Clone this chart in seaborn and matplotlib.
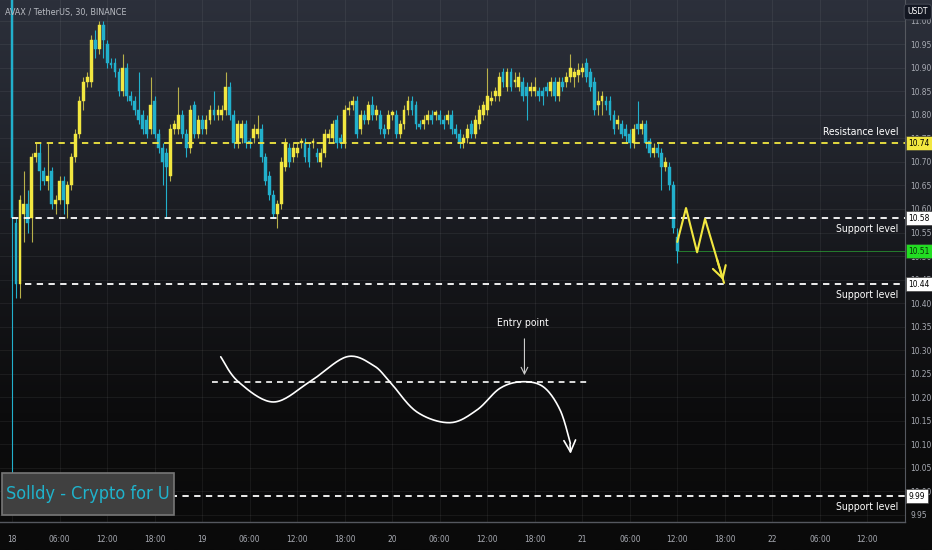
import numpy as np
import pandas as pd
import seaborn as sns
import matplotlib.pyplot as plt
from matplotlib import font_manager as fm
from matplotlib.colors import LinearSegmentedColormap
from matplotlib.patches import Rectangle
from matplotlib.transforms import blended_transform_factory

sns.set_theme(style='dark')

# look for a narrow face, TradingView text is condensed
cond = [f for f in fm.fontManager.ttflist
        if ('Narrow' in f.name or 'Condensed' in f.name or
            f.stretch in ('condensed', 'semi-condensed'))
        and f.style == 'normal' and f.weight in (400, 'normal', 'regular')]
if cond:
    plt.rcParams['font.family'] = [cond[0].name, 'DejaVu Sans']
    plt.rcParams['font.stretch'] = cond[0].stretch
    SHRINK = 1.0
else:
    plt.rcParams['font.family'] = ['DejaVu Sans']
    SHRINK = 0.85

# AVAX / USDT 30 min candles, 18th 00:00 onwards
opens = [11.20, 10.57, 10.44, 10.59, 10.61, 10.58, 10.71, 10.72, 10.68, 10.66,
         10.68, 10.61, 10.62, 10.66, 10.61, 10.65, 10.71, 10.76, 10.83, 10.87,
         10.87, 10.96, 10.94, 10.99, 10.95, 10.91, 10.91, 10.89, 10.85, 10.90,
         10.84, 10.83, 10.81, 10.80, 10.79, 10.77, 10.83, 10.76, 10.73, 10.72,
         10.67, 10.77, 10.77, 10.80, 10.76, 10.73, 10.82, 10.76, 10.79, 10.77,
         10.79, 10.81, 10.80, 10.80, 10.81, 10.86, 10.80, 10.74, 10.75, 10.78,
         10.745, 10.75, 10.76, 10.77, 10.71, 10.67, 10.63, 10.59, 10.61, 10.69,
         10.73, 10.71, 10.72, 10.74, 10.74, 10.73, 10.74, 10.72, 10.70, 10.72,
         10.75, 10.75, 10.79, 10.75, 10.74, 10.81, 10.82, 10.83, 10.77, 10.80,
         10.79, 10.82, 10.80, 10.80, 10.77, 10.77, 10.80, 10.80, 10.76, 10.78,
         10.81, 10.83, 10.82, 10.78, 10.78, 10.79, 10.80, 10.80, 10.80, 10.79,
         10.79, 10.80, 10.77, 10.76, 10.74, 10.75, 10.78, 10.76, 10.78, 10.80,
         10.81, 10.83, 10.84, 10.84, 10.89, 10.86, 10.89, 10.87, 10.86, 10.87,
         10.86, 10.85, 10.85, 10.85, 10.85, 10.86, 10.85, 10.87, 10.84, 10.87,
         10.87, 10.88, 10.88, 10.885, 10.89, 10.91, 10.89, 10.87, 10.82, 10.83,
         10.83, 10.83, 10.80, 10.78, 10.78, 10.77, 10.76, 10.74, 10.78, 10.77,
         10.78, 10.745, 10.72, 10.73, 10.72, 10.69, 10.69, 10.65, 10.54]
closes = [10.58, 10.44, 10.62, 10.61, 10.57, 10.71, 10.72, 10.68, 10.66, 10.67,
          10.61, 10.62, 10.66, 10.62, 10.65, 10.71, 10.76, 10.83, 10.87, 10.88,
          10.96, 10.94, 10.99, 10.96, 10.91, 10.905, 10.89, 10.85, 10.90, 10.84,
          10.83, 10.81, 10.79, 10.77, 10.76, 10.82, 10.76, 10.73, 10.70, 10.69,
          10.77, 10.78, 10.80, 10.76, 10.73, 10.81, 10.76, 10.79, 10.77, 10.79,
          10.81, 10.80, 10.81, 10.81, 10.86, 10.80, 10.74, 10.78, 10.78, 10.74,
          10.74, 10.77, 10.77, 10.71, 10.66, 10.63, 10.59, 10.61, 10.70, 10.74,
          10.70, 10.73, 10.73, 10.745, 10.71, 10.70, 10.745, 10.71, 10.72, 10.76,
          10.76, 10.78, 10.74, 10.74, 10.81, 10.815, 10.83, 10.76, 10.80, 10.79,
          10.82, 10.80, 10.81, 10.77, 10.76, 10.80, 10.805, 10.76, 10.78, 10.81,
          10.83, 10.81, 10.78, 10.775, 10.79, 10.80, 10.79, 10.805, 10.79, 10.78,
          10.80, 10.77, 10.76, 10.74, 10.75, 10.77, 10.76, 10.79, 10.81, 10.82,
          10.84, 10.835, 10.85, 10.88, 10.87, 10.89, 10.86, 10.875, 10.88, 10.84,
          10.84, 10.86, 10.86, 10.84, 10.84, 10.85, 10.87, 10.84, 10.87, 10.86,
          10.88, 10.90, 10.89, 10.895, 10.90, 10.88, 10.86, 10.81, 10.83, 10.84,
          10.82, 10.80, 10.77, 10.79, 10.76, 10.755, 10.74, 10.77, 10.77, 10.78,
          10.74, 10.72, 10.73, 10.72, 10.69, 10.70, 10.65, 10.56, 10.51]
highs = [11.20, 10.58, 10.63, 10.68, 10.64, 10.72, 10.74, 10.74, 10.69, 10.74,
         10.69, 10.63, 10.67, 10.67, 10.66, 10.72, 10.77, 10.84, 10.88, 10.89,
         10.97, 10.98, 11.00, 11.00, 10.96, 10.92, 10.92, 10.90, 10.93, 10.91,
         10.85, 10.84, 10.89, 10.81, 10.80, 10.88, 10.84, 10.77, 10.74, 10.73,
         10.78, 10.79, 10.86, 10.81, 10.77, 10.82, 10.83, 10.80, 10.80, 10.80,
         10.82, 10.85, 10.82, 10.82, 10.89, 10.87, 10.81, 10.79, 10.79, 10.79,
         10.75, 10.78, 10.80, 10.78, 10.72, 10.68, 10.64, 10.62, 10.71, 10.75,
         10.74, 10.74, 10.74, 10.75, 10.75, 10.74, 10.75, 10.73, 10.73, 10.77,
         10.77, 10.79, 10.80, 10.76, 10.82, 10.83, 10.84, 10.84, 10.81, 10.81,
         10.83, 10.84, 10.82, 10.81, 10.78, 10.81, 10.81, 10.81, 10.79, 10.82,
         10.84, 10.84, 10.83, 10.79, 10.80, 10.81, 10.81, 10.81, 10.81, 10.80,
         10.81, 10.81, 10.78, 10.77, 10.76, 10.78, 10.79, 10.80, 10.82, 10.83,
         10.90, 10.85, 10.86, 10.89, 10.90, 10.90, 10.90, 10.89, 10.89, 10.88,
         10.87, 10.87, 10.88, 10.86, 10.86, 10.87, 10.88, 10.88, 10.88, 10.88,
         10.89, 10.93, 10.90, 10.91, 10.91, 10.92, 10.90, 10.88, 10.85, 10.85,
         10.84, 10.84, 10.81, 10.80, 10.79, 10.78, 10.77, 10.78, 10.83, 10.79,
         10.79, 10.75, 10.74, 10.74, 10.73, 10.71, 10.70, 10.66, 10.56]
lows = [10.03, 10.41, 10.41, 10.53, 10.55, 10.53, 10.70, 10.64, 10.65, 10.64,
        10.60, 10.59, 10.61, 10.59, 10.58, 10.64, 10.70, 10.75, 10.81, 10.86,
        10.86, 10.92, 10.93, 10.92, 10.90, 10.90, 10.88, 10.84, 10.84, 10.83,
        10.82, 10.80, 10.78, 10.76, 10.75, 10.76, 10.75, 10.72, 10.65, 10.58,
        10.66, 10.76, 10.76, 10.75, 10.71, 10.72, 10.75, 10.75, 10.76, 10.76,
        10.78, 10.79, 10.79, 10.79, 10.80, 10.79, 10.73, 10.73, 10.74, 10.73,
        10.73, 10.74, 10.75, 10.70, 10.65, 10.62, 10.58, 10.56, 10.60, 10.68,
        10.69, 10.70, 10.71, 10.73, 10.70, 10.69, 10.73, 10.70, 10.69, 10.71,
        10.74, 10.74, 10.73, 10.73, 10.73, 10.80, 10.81, 10.75, 10.76, 10.78,
        10.78, 10.79, 10.79, 10.76, 10.75, 10.76, 10.79, 10.75, 10.75, 10.77,
        10.80, 10.80, 10.77, 10.77, 10.77, 10.78, 10.78, 10.79, 10.78, 10.77,
        10.78, 10.76, 10.75, 10.73, 10.73, 10.74, 10.75, 10.75, 10.77, 10.79,
        10.80, 10.82, 10.83, 10.83, 10.86, 10.85, 10.85, 10.86, 10.85, 10.83,
        10.79, 10.84, 10.84, 10.83, 10.82, 10.84, 10.84, 10.83, 10.83, 10.85,
        10.86, 10.87, 10.86, 10.87, 10.88, 10.87, 10.85, 10.80, 10.80, 10.80,
        10.81, 10.79, 10.76, 10.77, 10.75, 10.74, 10.73, 10.73, 10.76, 10.76,
        10.73, 10.71, 10.71, 10.71, 10.64, 10.68, 10.64, 10.55, 10.485]

# drawn levels
resistance = 10.74
supports = [10.58, 10.44, 9.99]
last_price = 10.51

# yellow zigzag projection (hours from 18 00:00, price)
zig_h = [84.0, 85.1, 86.5, 87.5, 89.9]
zig_p = [10.530, 10.602, 10.508, 10.579, 10.443]

# hand drawn white curve in the lower half
curve_h = [26.35, 28.57, 33.0, 37.6, 42.26, 45.6, 47.7, 51.1, 55.3, 58.7,
           61.6, 64.4, 67.1, 69.2, 70.5]
curve_p = [10.286, 10.233, 10.190, 10.233, 10.286, 10.268, 10.233, 10.169,
           10.146, 10.173, 10.219, 10.233, 10.222, 10.173, 10.102]
entry_level = 10.233

time_labels = ['18', '06:00', '12:00', '18:00', '19', '06:00', '12:00', '18:00',
               '20', '06:00', '12:00', '18:00', '21', '06:00', '12:00', '18:00',
               '22', '06:00', '12:00']

YEL = '#f2e740'
CYA = '#22b0cc'
GRID = '#ffffff'


def smooth(xs, ys, n=20):
    # catmull-rom through the hand-drawn points
    xs = np.r_[xs[0], xs, xs[-1]]
    ys = np.r_[ys[0], ys, ys[-1]]
    ox, oy = [], []
    t = np.linspace(0, 1, n, endpoint=False)
    for i in range(1, len(xs) - 2):
        for arr, out in ((xs, ox), (ys, oy)):
            p0, p1, p2, p3 = arr[i - 1], arr[i], arr[i + 1], arr[i + 2]
            out.extend(0.5 * ((2 * p1) + (-p0 + p2) * t +
                              (2 * p0 - 5 * p1 + 4 * p2 - p3) * t ** 2 +
                              (-p0 + 3 * p1 - 3 * p2 + p3) * t ** 3))
    ox.append(xs[-2])
    oy.append(ys[-2])
    return np.array(ox), np.array(oy)


df = pd.DataFrame({'open': opens, 'close': closes, 'high': highs, 'low': lows})
df['t'] = np.arange(len(df)) * 0.5
df['up'] = df['close'] >= df['open']

W, H = 932, 550
fig = plt.figure(figsize=(W / 100, H / 100), dpi=100)
fig.patch.set_facecolor('#0b0b0c')

# background gradient over the whole figure
bg = fig.add_axes([0, 0, 1, 1], zorder=0)
cmap = LinearSegmentedColormap.from_list(
    'bg', ['#2c303b', '#22252d', '#15161a', '#0c0c0d', '#0a0a0a'])
bg.imshow(np.linspace(0, 1, 256).reshape(-1, 1), aspect='auto', cmap=cmap,
          extent=[0, 1, 0, 1])
bg.axis('off')

ax = fig.add_axes([0, 28 / H, 905 / W, 1 - 28 / H], zorder=1)
ax.patch.set_alpha(0)
ax.set_xlim(-1.52, 112.75)
ax.set_ylim(9.935, 11.044)

# grid
for v in np.arange(0, 109, 6):
    ax.axvline(v, color=GRID, alpha=0.06, lw=0.8, zorder=1)
for v in np.arange(9.95, 11.0, 0.05):
    ax.axhline(v, color=GRID, alpha=0.06, lw=0.8, zorder=1)

# candles
for up, col, wick in ((True, YEL, '#b8b04a'), (False, CYA, CYA)):
    d = df[df['up'] == up]
    ax.vlines(d['t'], d['low'], d['high'], color=wick, lw=0.8, zorder=3)
    ax.bar(d['t'], (d['close'] - d['open']).abs().clip(lower=0.003),
           bottom=d[['open', 'close']].min(axis=1), width=0.36,
           color=col, edgecolor=col, lw=0.3, zorder=4)

# levels
ax.plot([2.9, 112.75], [resistance] * 2, color=YEL, lw=1.3,
        dashes=(3.5, 3), zorder=5)
ax.plot([0.0, 112.75], [supports[0]] * 2, color='white', lw=1.3,
        dashes=(3.5, 3), zorder=5)
ax.plot([1.6, 112.75], [supports[1]] * 2, color='white', lw=1.3,
        dashes=(3.5, 3), zorder=5)
ax.plot([12.6, 112.75], [supports[2]] * 2, color='white', lw=1.3,
        dashes=(3.5, 3), zorder=5)
ax.axhline(last_price, xmin=0.748, color='#2fbf3a', lw=0.7, alpha=0.6,
           zorder=2)

ax.text(111.9, resistance + 0.012, 'Resistance level', color='white',
        fontsize=7.5 * SHRINK, ha='right', va='bottom', zorder=6)
for lv in supports:
    ax.text(111.9, lv - 0.012, 'Support level', color='white',
            fontsize=7.5 * SHRINK, ha='right', va='top', zorder=6)

# zigzag arrow
sns.lineplot(x=zig_h, y=zig_p, sort=False, color=YEL, lw=1.5, ax=ax,
             zorder=6)
ax.annotate('', xy=(zig_h[-1], zig_p[-1]),
            xytext=(zig_h[-2] + 0.6 * (zig_h[-1] - zig_h[-2]),
                    zig_p[-2] + 0.6 * (zig_p[-1] - zig_p[-2])),
            arrowprops=dict(arrowstyle='->,head_length=0.7,head_width=0.4',
                            color=YEL, lw=1.5), zorder=6)

# hand drawn curve + entry
cx, cy = smooth(curve_h, curve_p)
sns.lineplot(x=cx, y=cy, sort=False, color='white', lw=1.2, ax=ax, zorder=6)
ax.annotate('', xy=(70.55, 10.074), xytext=(cx[-3], cy[-3]),
            arrowprops=dict(arrowstyle='->,head_length=0.7,head_width=0.35',
                            color='white', lw=1.2), zorder=6)
ax.plot([25.2, 72.8], [entry_level] * 2, color='white', lw=1.2,
        dashes=(3.5, 3), zorder=5)
ax.text(64.5, 10.358, 'Entry point', color='white', fontsize=7.5 * SHRINK,
        ha='center', va='center', zorder=6)
ax.annotate('', xy=(64.7, entry_level + 0.008), xytext=(64.7, 10.33),
            arrowprops=dict(arrowstyle='->', color='#cccccc', lw=0.8),
            zorder=6)

# axes cosmetics
ax.set_xticks(np.arange(0, 109, 6))
ax.set_xticklabels(time_labels)
ax.set_yticks(np.round(np.arange(9.95, 11.0, 0.05), 2))
ax.set_yticklabels(['%.2f' % v for v in np.arange(9.95, 11.0, 0.05)])
ax.yaxis.tick_right()
ax.tick_params(axis='both', colors='#a8abb3', labelsize=6 * SHRINK,
               length=0, pad=4)
ax.tick_params(axis='x', pad=9)
ax.grid(False)
for s in ['top', 'left']:
    ax.spines[s].set_visible(False)
ax.spines['right'].set_color('#55585f')
ax.spines['right'].set_linewidth(0.8)
ax.spines['bottom'].set_color('#55585f')
ax.spines['bottom'].set_linewidth(1.0)
ax.set_xlabel('')
ax.set_ylabel('')

# price tags
tr = blended_transform_factory(ax.transAxes, ax.transData)
tags = [(resistance, YEL, 'black'), (supports[0], 'white', 'black'),
        (last_price, '#22dd22', '#0a300a'), (supports[1], 'white', 'black'),
        (supports[2], 'white', 'black')]
for lv, bgc, fc in tags:
    ax.text(1.004, lv, '%.2f' % lv, transform=tr, color=fc,
            fontsize=6 * SHRINK, ha='left', va='center', zorder=7,
            clip_on=False,
            bbox=dict(boxstyle='square,pad=0.3', fc=bgc, ec='#333333',
                      lw=0.4))

fig.text(1 - 4 / W, 1 - 12 / H, 'USDT', color='white', fontsize=6 * SHRINK,
         ha='right', va='center', bbox=dict(boxstyle='round,pad=0.4',
                                            fc='#131722', ec='#4a4e58',
                                            lw=0.6), zorder=8)
ax.text(0.006, 0.985, 'AVAX / TetherUS, 30, BINANCE', transform=ax.transAxes,
        color='#b8bbc2', fontsize=6.5 * SHRINK, ha='left', va='top', zorder=8)

# watermark box sized around its text
wm = fig.text(6 / W, 1 - 494 / H, 'Solldy - Crypto for U', color='#1fb3cc',
              fontsize=13 * SHRINK, ha='left', va='center', zorder=9)
fig.canvas.draw()
wpx = wm.get_window_extent().width
fig.add_artist(Rectangle((2 / W, 1 - 515 / H), max(110, wpx + 8) / W,
                         42 / H, transform=fig.transFigure, fc='#404040',
                         ec='#777777', lw=1.2, zorder=8))

fig.savefig('out.png', dpi=100, facecolor=fig.get_facecolor())
